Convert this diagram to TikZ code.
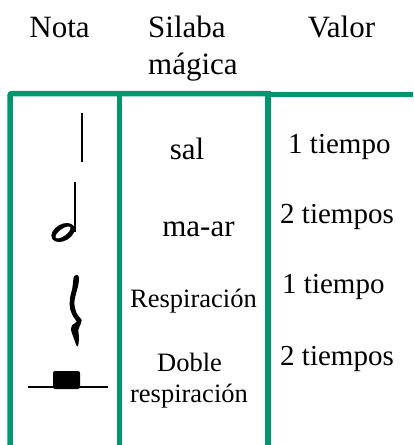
\documentclass[tikz,border=0pt]{standalone}
\usepackage{fontspec}
\setmainfont{Liberation Serif}
\definecolor{framegreen}{RGB}{0,150,110}
\begin{document}
\begin{tikzpicture}[x=1pt,y=-1pt,
  hdr/.style={anchor=base,inner sep=0pt,font=\fontsize{31}{31}\selectfont},
  syl/.style={anchor=base,inner sep=0pt,font=\fontsize{31}{31}\selectfont},
  val/.style={anchor=base west,inner sep=0pt,font=\fontsize{29}{29}\selectfont},
  small/.style={anchor=base,inner sep=0pt,font=\fontsize{26.5}{26.5}\selectfont},
  frame/.style={draw=framegreen,line width=5.5pt},
  glyph/.style={draw=black,line width=2pt}]
\useasboundingbox (0,0) rectangle (413,445);
% headers
\node[hdr] (hnota) at (59.5,37) {Nota};
\node[hdr,anchor=base west] (hsil) at (148,37) {Silaba};
\node[hdr,anchor=base west] (hmag) at (148,74) {mágica};
\node[hdr] (hval) at (341.5,37) {Valor};
% frame
\draw[frame,rounded corners=2pt] (10,445) -- (10,93.5) -- (268,93.5);
\draw[frame] (119.7,93.5) -- (119.7,445);
\draw[frame,line width=6.5pt] (268,91) -- (268,445);
\draw[frame] (268,94.7) -- (413,94.7);
% syllables
\node[syl] (sal) at (187,159.3) {sal};
\node[syl] (maar) at (198.5,236) {ma-ar};
\node[small] (resp) at (193.5,307.3) {Respiración};
\node[small] (doble) at (189.5,371.7) {Doble};
\node[small] (dresp) at (189,402.7) {respiración};
% values
\node[val] (v1) at (288,153.3) {1 tiempo};
\node[val] (v2) at (280,223) {2 tiempos};
\node[val] (v3) at (282,293) {1 tiempo};
\node[val] (v4) at (280,365) {2 tiempos};
% quarter note (stem)
\draw[glyph] (81.7,113) -- (81.7,162);
% half note
\draw[glyph] (75,182) -- (75,232);
\fill[black,even odd rule]
  (63,232.5) ellipse [x radius=12.5pt, y radius=8.3pt, rotate=30]
  (63,232.5) ellipse [x radius=9pt, y radius=3.6pt, rotate=36];
% quarter rest
\fill[black] plot[smooth cycle,tension=0.5] coordinates {
  (77.7,275) (79,278.3) (78.3,285) (75.7,295) (74.3,303.3) (76.7,313.3)
  (81.7,320) (81,323.3) (78.3,330) (79,336.7) (78.3,345)
  (76.7,346) (73.3,336.7) (71,330) (72.3,325) (76.7,321.7) (73.3,316.7)
  (70,308.3) (70,298.3) (72.3,288.3) (73.3,280) (74.3,276)};
% double whole rest
\draw[line width=1.8pt] (28,386.7) -- (108,386.7);
\fill[black,rounded corners=2pt] (53,371) rectangle (80,389);
\end{tikzpicture}
\end{document}
